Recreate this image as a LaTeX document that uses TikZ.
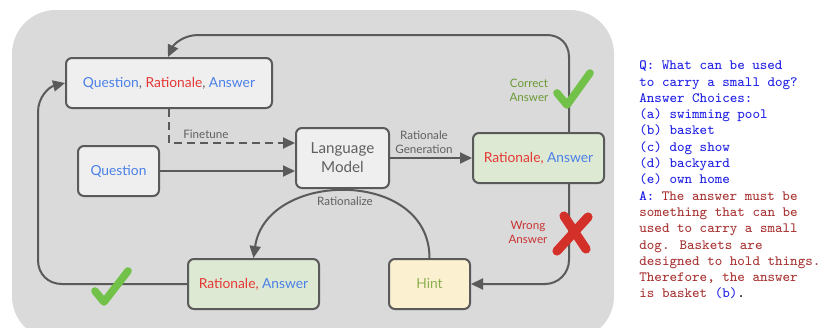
\documentclass[tikz,border=0pt]{standalone}
\usepackage{fontspec}
\setsansfont{Lato}
\usetikzlibrary{arrows.meta}
\definecolor{bgc}{HTML}{DADADA}
\definecolor{boxc}{HTML}{EFEFEF}
\definecolor{greenbox}{HTML}{DDE9D3}
\definecolor{yellowbox}{HTML}{FBF0D0}
\definecolor{linec}{HTML}{5A5A5A}
\definecolor{qblue}{HTML}{4A80E8}
\definecolor{rred}{HTML}{E53935}
\definecolor{labgrey}{HTML}{606060}
\definecolor{okgreen}{HTML}{6A9A35}
\definecolor{hintgreen}{HTML}{8DB04F}
\definecolor{checkgreen}{HTML}{72C24A}
\definecolor{wrongred}{HTML}{D4302A}
\definecolor{wronglab}{HTML}{C83232}
\definecolor{ttblue}{HTML}{1E1EE6}
\definecolor{ttred}{HTML}{A83232}
\begin{document}
\begin{tikzpicture}[x=0.5pt,y=-0.5pt,
  box/.style={draw=linec, line width=1pt, rounded corners=3pt, minimum height=25pt,
    font=\sffamily\fontsize{6.9}{8.5}\selectfont, inner sep=1pt},
  conn/.style={draw=linec, line width=1pt, -{Triangle[length=6pt,width=5.5pt]}},
  lab/.style={font=\sffamily\fontsize{5.8}{7}\selectfont, text=labgrey, align=center, inner sep=0pt},
  markstroke/.style={line width=3.8pt, line cap=round, line join=round}
]
\useasboundingbox (0,0) rectangle (820,327);
\fill[white] (0,0) rectangle (820,327);
\fill[bgc, rounded corners=22pt] (12,10) rectangle (614,340);

\node[box, fill=boxc, minimum width=103pt] (qra) at (169,83)
  {\textcolor{qblue}{Question}\textcolor{labgrey}{,} \textcolor{rred}{Rationale}\textcolor{labgrey}{,} \textcolor{qblue}{Answer}};
\node[box, fill=boxc, minimum width=40.5pt] (q) at (118.5,171) {\textcolor{qblue}{Question}};
\node[box, fill=boxc, minimum width=46.5pt, minimum height=30pt, align=center, text=labgrey,
  font=\sffamily\fontsize{7.6}{9.6}\selectfont] (lm) at (342.5,158) {Language\\Model};
\node[box, fill=greenbox, minimum width=65.5pt] (ra1) at (538.5,158)
  {\textcolor{rred}{Rationale,} \textcolor{qblue}{Answer}};
\node[box, fill=greenbox, minimum width=65.5pt] (ra2) at (253.5,284)
  {\textcolor{rred}{Rationale,} \textcolor{qblue}{Answer}};
\node[box, fill=yellowbox, minimum width=40.5pt] (hint) at (429.5,284) {\textcolor{hintgreen}{Hint}};

\draw[conn] (q.east) -- (q.east -| lm.west);
\draw[conn, dash pattern=on 4pt off 2.5pt] (qra.south) |- ([yshift=7.5pt]lm.west);
\node[lab, anchor=west] (ftl) at (183,134) {Finetune};
\draw[conn] (lm.east) -- (ra1.west);
\node[lab] (rgl) at (424,142) {Rationale\\Generation};

\draw[conn] ([xshift=15.25pt]ra1.north) -- (569,57)
  .. controls (569,44) and (560,35) .. (547,35) -- (198,35)
  .. controls (184,35) and (174,44) .. ([xshift=-0.5pt]qra.north);
\draw[conn, rounded corners=12pt] ([xshift=15.25pt]ra1.south) |- (hint.east);
\draw[conn] (hint.north) .. controls (429.5,168) and (266,170) .. (ra2.north);
\node[lab] (rzl) at (345,201) {Rationalize};
\draw[conn] (ra2.west) -- (62,284)
  .. controls (48,284) and (38,274) .. (38,260) -- (38,112)
  .. controls (38,97) and (49,87) .. (qra.west);

\node[lab, text=okgreen] (cal) at (529,90) {Correct\\Answer};
\node[lab, text=wronglab] (wal) at (528,232) {Wrong\\Answer};

\draw[markstroke, checkgreen] (557,93) -- (567,105) -- (590,73);
\draw[markstroke, checkgreen] (95,291) -- (104,302) -- (128,271);
\draw[markstroke, wrongred, line width=4.6pt] (564,216) -- (586,249);
\draw[markstroke, wrongred, line width=4.6pt] (588,217) -- (557,251);

\node[anchor=north west, inner sep=0pt, align=left, text=ttblue,
  font=\ttfamily\fontsize{7.1}{8.15}\selectfont] (qa) at (639,60.5)
  {{\bfseries Q:} What can be used\\
   to carry a small dog?\\
   Answer Choices:\\
   (a) swimming pool\\
   (b) basket\\
   (c) dog show\\
   (d) backyard\\
   (e) own home\\
   {\bfseries A:} \textcolor{ttred}{The answer must be}\\
   \textcolor{ttred}{something that can be}\\
   \textcolor{ttred}{used to carry a small}\\
   \textcolor{ttred}{dog. Baskets are}\\
   \textcolor{ttred}{designed to hold things.}\\
   \textcolor{ttred}{Therefore, the answer}\\
   \textcolor{ttred}{is basket }(b)\textcolor{black}{.}};
\end{tikzpicture}
\end{document}
